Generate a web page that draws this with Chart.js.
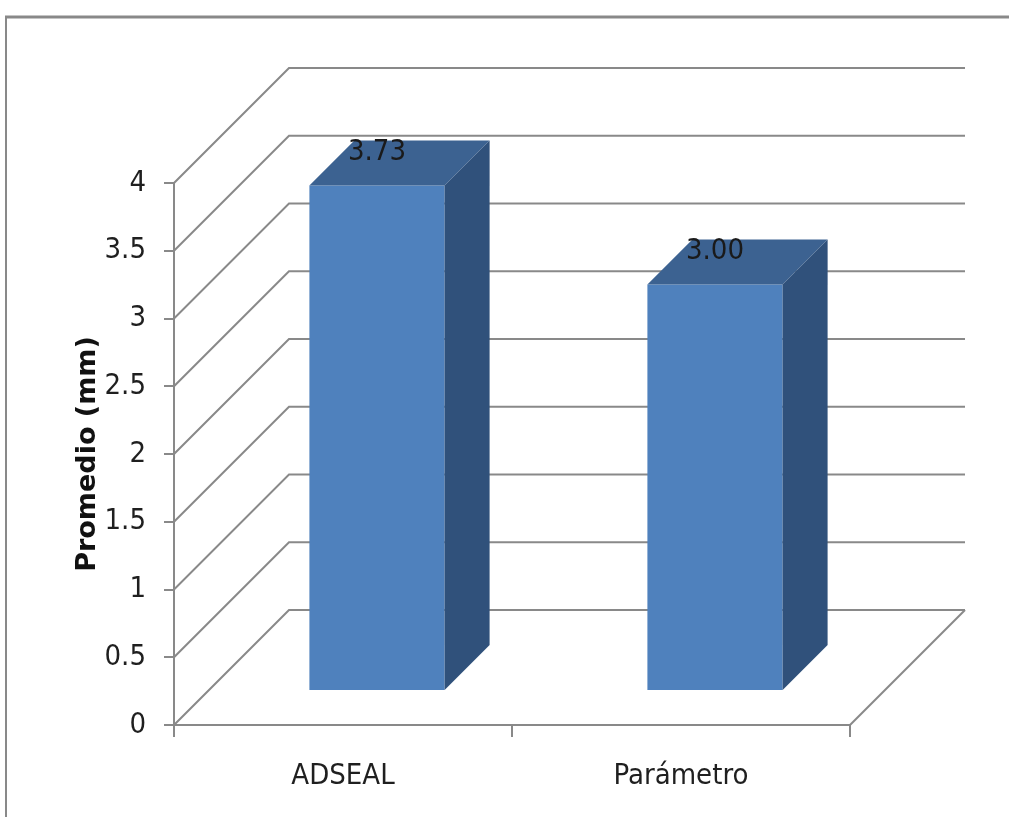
<!DOCTYPE html>
<html>
<head>
<meta charset="utf-8">
<title>Promedio (mm)</title>
<script src="https://cdn.jsdelivr.net/npm/chart.js@4.4.1/dist/chart.umd.min.js"></script>
<style>
	body { margin: 0; background: #fff; }
	canvas { display: block; }
</style>
</head>
<body>
<canvas id="mycanvas" width="1009" height="817"></canvas>
<script>
var categories = ['ADSEAL', 'Parámetro'];
var promedio = [3.73, 3.00];
var yTicks = [0, 0.5, 1, 1.5, 2, 2.5, 3, 3.5, 4];
var yTickLabels = ['0', '0.5', '1', '1.5', '2', '2.5', '3', '3.5', '4'];

var WALL = 115;   // depth of back wall
var SHIFT = 34;   // bars sit this far behind the front plane
var DEPTH = 45;   // bar depth
var lineGray = '#898989';
var narrow = '"Liberation Sans Narrow", "DejaVu Sans Condensed", sans-serif';

var frame = {
	id: 'frame',
	beforeDraw: function(chart) {
		var ctx = chart.ctx;
		ctx.save();
		ctx.fillStyle = '#fff';
		ctx.fillRect(0, 0, chart.width, chart.height);
		ctx.strokeStyle = lineGray;
		ctx.lineWidth = 3;
		ctx.beginPath();
		ctx.moveTo(5, 17);
		ctx.lineTo(chart.width, 17);
		ctx.stroke();
		ctx.lineWidth = 2;
		ctx.beginPath();
		ctx.moveTo(6, 16);
		ctx.lineTo(6, chart.height);
		ctx.stroke();
		ctx.restore();
	},
	beforeDatasetsDraw: function(chart) {
		// walls: diagonal + back gridline for every tick
		var ctx = chart.ctx;
		var a = chart.chartArea;
		var y = chart.scales.y;
		ctx.save();
		ctx.strokeStyle = lineGray;
		ctx.lineWidth = 2;
		for (var i in yTicks) {
			var py = y.getPixelForValue(yTicks[i]);
			ctx.beginPath();
			ctx.moveTo(a.left, py);
			ctx.lineTo(a.left + WALL, py - WALL);
			ctx.lineTo(a.right + WALL, py - WALL);
			ctx.stroke();
		}
		// floor right edge
		ctx.beginPath();
		ctx.moveTo(a.right, a.bottom);
		ctx.lineTo(a.right + WALL, a.bottom - WALL);
		ctx.stroke();
		ctx.restore();
	},
	beforeDatasetDraw: function(chart) {
		chart.ctx.save();
		chart.ctx.translate(SHIFT, -SHIFT);
	},
	afterDatasetDraw: function(chart, args) {
		var ctx = chart.ctx;
		var bars = args.meta.data;
		for (var i = 0; i < bars.length; i++) {
			var b = bars[i];
			var l = b.x - b.width / 2;
			var r = b.x + b.width / 2;

			ctx.fillStyle = '#3c6291';
			ctx.beginPath();
			ctx.moveTo(l, b.y);
			ctx.lineTo(l + DEPTH, b.y - DEPTH);
			ctx.lineTo(r + DEPTH, b.y - DEPTH);
			ctx.lineTo(r, b.y);
			ctx.closePath();
			ctx.fill();

			ctx.fillStyle = '#30517b';
			ctx.beginPath();
			ctx.moveTo(r, b.y);
			ctx.lineTo(r + DEPTH, b.y - DEPTH);
			ctx.lineTo(r + DEPTH, b.base - DEPTH);
			ctx.lineTo(r, b.base);
			ctx.closePath();
			ctx.fill();

			ctx.fillStyle = '#1a1a1a';
			ctx.font = '29px ' + narrow;
			ctx.textAlign = 'center';
			ctx.textBaseline = 'alphabetic';
			ctx.fillText(promedio[i].toFixed(2), b.x, b.y - 26);
		}
		ctx.restore();
	}
};

var ctx = document.getElementById('mycanvas');

var barGraph = new Chart(ctx, {
	type: 'bar',
	data: {
		labels: categories,
		datasets: [{
			label: 'Promedio (mm)',
			data: promedio,
			backgroundColor: '#4f81bd',
			borderWidth: 0,
			categoryPercentage: 1,
			barPercentage: 0.4,
			clip: false
		}]
	},
	options: {
		responsive: false,
		animation: false,
		devicePixelRatio: 1,
		layout: { padding: { top: 183, right: 159, left: 0, bottom: 0 } },
		plugins: {
			legend: { display: false },
			tooltip: { enabled: false }
		},
		scales: {
			x: {
				afterFit: function(scale) { scale.height = 92; },
				grid: { drawOnChartArea: false, color: lineGray, lineWidth: 2, tickLength: 12 },
				border: { color: lineGray, width: 2 },
				ticks: {
					color: '#1f1f1f',
					padding: 22,
					font: { family: narrow, size: 29 }
				}
			},
			y: {
				min: 0,
				max: 4,
				afterFit: function(scale) { scale.width = 174; },
				afterBuildTicks: function(scale) {
					scale.ticks = yTicks.map(function(v) { return { value: v }; });
				},
				grid: { drawOnChartArea: false, color: lineGray, lineWidth: 2, tickLength: 10 },
				border: { color: lineGray, width: 2 },
				ticks: {
					color: '#1f1f1f',
					padding: 18,
					font: { family: narrow, size: 29 },
					callback: function(v, i) { return yTickLabels[i]; }
				},
				title: {
					display: true,
					text: 'Promedio (mm)',
					color: '#111',
					padding: { top: 72, bottom: 0 },
					font: { family: '"DejaVu Sans", sans-serif', size: 27, weight: 'bold' }
				}
			}
		}
	},
	plugins: [frame]
});
</script>
</body>
</html>
